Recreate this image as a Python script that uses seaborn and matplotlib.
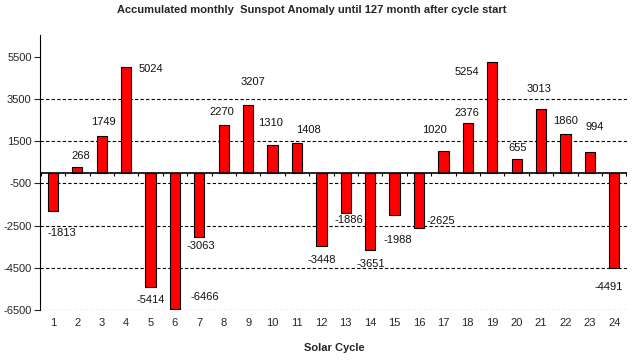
import matplotlib
matplotlib.use("Agg")
import matplotlib.pyplot as plt
import numpy as np
import pandas as pd
import seaborn as sns

# data
cycles = list(range(1, 25))
anomaly = [-1813, 268, 1749, 5024, -5414, -6466, -3063, 2270, 3207, 1310, 1408, -3448,
           -1886, -3651, -1988, -2625, 1020, 2376, 5254, 655, 3013, 1860, 994, -4491]
y_ticks = [-6500, -4500, -2500, -500, 1500, 3500, 5500]

# label offsets in pixels from the bar end (Excel put them a bit everywhere)
label_offsets = [(9, -22), (3, 11), (2, 14), (25, -2), (0, -13), (30, 12), (1, -9), (-2, 13),
                 (5, 23), (-2, 22), (11, 13), (0, -14), (3, -7), (1, -14), (3, -25), (22, 7),
                 (-9, 21), (-1, 10), (-25, -10), (1, 11), (-2, 20), (0, 13), (5, 25), (-6, -19)]

sns.set_style("white")
plt.rcParams['font.family'] = ['Liberation Sans', 'DejaVu Sans']
plt.rcParams['axes.unicode_minus'] = False

df = pd.DataFrame({"cycle": cycles, "anomaly": anomaly})

fig = plt.figure(figsize=(6.4, 3.6), dpi=100)
ax = fig.add_axes([0.0625, 0.139, 0.9175, 0.764])

for t in y_ticks[:-1]:
    ax.axhline(t, color="black", lw=0.8, ls=(0, (3, 2)), zorder=0)

sns.barplot(x="cycle", y="anomaly", data=df, native_scale=True, width=0.42,
            color="#ff0000", saturation=1, edgecolor="black", linewidth=0.8, ax=ax, zorder=2)

ax.axhline(0, color="black", lw=1.2, zorder=3)
ax.vlines(np.arange(0.5, 25, 1), -140, 0, color="black", lw=0.8, zorder=3)

for c, v, (dx, dy) in zip(cycles, anomaly, label_offsets):
    ax.annotate(str(v), (c, v), xytext=(dx, dy), textcoords="offset pixels",
                ha="center", va="center", fontsize=8, color="#111111")

ax.set_xlim(0.47, 24.53)
ax.set_ylim(-6500, 6540)
ax.set_xticks(cycles)
ax.set_xticklabels([str(c) for c in cycles])
ax.set_yticks(y_ticks)
ax.tick_params(axis="x", length=0, pad=6, labelsize=8)
ax.tick_params(axis="y", length=4, width=0.8, direction="out", left=True, labelsize=8, pad=2)
for s in ["top", "right", "bottom"]:
    ax.spines[s].set_visible(False)
ax.spines["left"].set_color("black")
ax.spines["left"].set_linewidth(0.8)
ax.set_xlabel("")
ax.set_ylabel("")

fig.text(0.4875, 0.972, "Accumulated monthly  Sunspot Anomaly until 127 month after cycle start",
         ha="center", va="center", fontsize=8, fontweight="bold")
fig.text(0.523, 0.033, "Solar Cycle", ha="center", va="center", fontsize=8, fontweight="bold")

fig.savefig("out.png", dpi=100)
